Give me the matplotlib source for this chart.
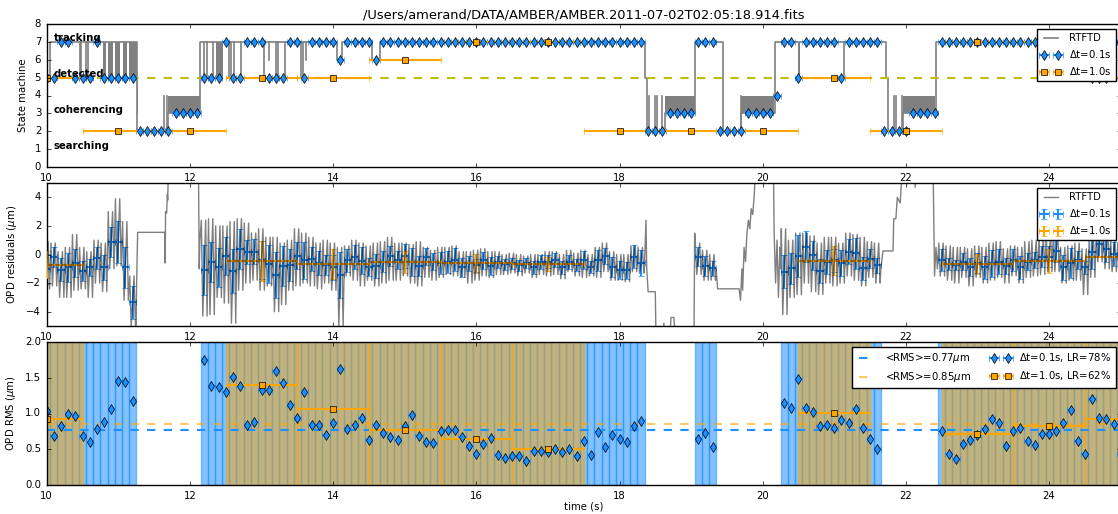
import numpy as np
import matplotlib
matplotlib.use("Agg")
import matplotlib.pyplot as plt

# ---------------- data ----------------
title = "/Users/amerand/DATA/AMBER/AMBER.2011-07-02T02:05:18.914.fits"

# 0.1 s bins from 10.0 to 25.0 s: state machine value of each bin
bin_t = np.round(np.arange(100, 251) / 10.0, 1)
bin_state = [5, 5, 7, 7, 5, 5, 5, 7, 5, 5, 5, 5, 5,
             2, 2, 2, 2, 2, 3, 3, 3, 3,
             5, 5, 5, 7, 5, 5, 7, 7, 7, 5, 5, 5, 7, 7, 5, 7, 7, 7,
             7, 6, 7, 7, 7, 7, 6] + [7] * 37 + \
            [2, 2, 2, 3, 3, 3, 3, 7, 7, 7, 2, 2, 2, 2, 3, 3, 3, 3, 4,
             7, 7, 5, 7, 7, 7, 7, 7, 5, 7, 7, 7, 7, 7,
             2, 2, 2, 2, 3, 3, 3, 3] + [7] * 21 + [5, 5, 5, 7, 7]

# 1 s bins
sec_t = np.arange(10, 26)
sec_state = [5, 2, 2, 5, 5, 6, 7, 7, 2, 2, 2, 5, 2, 7, 7, 5]

# OPD RMS of the valid 0.1 s bins (state >= 5)
blue_rms = [1.04, 0.69, 0.82, 0.99, 0.97, 0.69, 0.60, 0.79, 0.88, 1.06, 1.46, 1.44, 1.18,
            1.75, 1.39, 1.37, 1.30, 1.51, 1.39, 0.84, 0.88,
            1.33, 1.33, 1.60, 1.42, 1.12, 0.94, 1.30, 0.84, 0.84, 0.70,
            0.87, 1.62, 0.79, 0.84, 0.94, 0.63, 0.84, 0.73, 0.67, 0.63,
            0.82, 0.98, 0.68, 0.60, 0.59, 0.76, 0.77, 0.77, 0.67, 0.54,
            0.44, 0.58, 0.66, 0.42, 0.38, 0.40, 0.40, 0.33, 0.47, 0.48,
            0.46, 0.50, 0.46, 0.50, 0.41, 0.61, 0.42, 0.74, 0.53, 0.70,
            0.64, 0.60, 0.82, 0.90,
            0.64, 0.73, 0.53,
            1.15, 1.08, 1.48, 1.08, 1.02, 0.83, 0.84, 0.80, 0.91, 0.87, 1.06, 0.80, 0.65, 0.51,
            0.75, 0.44, 0.36, 0.57, 0.63, 0.70, 0.79, 0.92, 0.87, 0.55, 0.75, 0.80, 0.61,
            0.56, 0.72, 0.71, 0.76, 0.87, 1.05, 0.61, 0.44, 1.20, 0.94, 0.92, 0.85, 0.44]

# mean OPD residual of the valid 0.1 s bins
blue_mean = [-1.0, -0.15, -1.05, -0.9, -0.6, -1.15, -0.9, -0.25, -0.9, 0.88, 0.88, -0.9, -3.35,
             -1.1, -0.5, -0.9, -0.1, -1.15, 0.4, 0.2, 0.2,
             -0.4, -0.67, -1.45, -0.8, -0.75, -0.07, -0.4, -0.32, -0.62, -0.75,
             -0.9, -1.45, -0.4, -0.15, -0.45, -0.9, -0.8, -0.5, -0.1, -0.4,
             -0.1, -0.5, -0.8, -0.15, -0.5, -0.62, -0.5, -0.35, -0.9, -0.62,
             -0.75, -0.4, -0.8, -0.5, -0.67, -0.62, -0.75, -0.58, -0.9, -0.5,
             -0.5, -0.4, -0.9, -0.5, -0.75, -0.4, -0.9, -0.4, -0.1, -0.9,
             -1.1, -1.1, -0.15, -0.62,
             -0.15, -0.8, -0.97,
             -1.2, -0.97, -0.1, 0.53, -0.05, -1.13, -0.5, -0.4, -0.62, 0.2, 0.07, -0.97, -0.28, -0.75,
             -0.4, -0.67, -0.75, -0.5, -0.9, -0.62, -0.9, -0.62, -0.5, -0.8, -0.4, -0.9, -0.5,
             -0.4, -0.15, -0.15, 0.25, -0.9, -0.58, -0.4, -0.9, 0.2, 0.76, 0.4, 0.02, -0.2]

# upper / lower excursions of the raw RTFTD residuals inside each valid 0.1 s bin
gray_hi = [0.9, 0.8, 0.2, 0.5, 1.4, 0.5, 0.2, 1.0, 0.8, 3.0, 3.9, 2.3, -1.5,
           2.4, 2.5, 2.0, 2.0, 2.3, 2.5, 2.2, 1.5,
           1.8, 1.2, 1.2, 0.8, 1.0, 1.8, 1.5, 1.2, 0.8, 1.0,
           0.8, 0.5, 0.6, 1.0, 0.8, 0.6, 0.8, 0.9, 1.2, 0.8,
           0.8, 0.7, 0.9, 0.5, 0.3, 0.5, 0.5, 0.6, 0.2, 0.2,
           0.3, 0.4, 0.2, 0.2, 0.0, 0.1, 0.0, -0.1, 0.0, 0.0,
           0.2, 0.2, 0.0, 0.3, 0.1, 0.3, 0.0, 0.5, 0.8, 0.2,
           0.0, 0.0, 0.6, 0.5,
           0.8, 0.3, 0.0,
           1.8, 1.0, 1.5, 1.5, 1.3, 0.8, 1.2, 1.2, 0.8, 1.5, 1.4, 1.2, 0.9, 0.8,
           0.8, 0.6, 0.5, 0.5, 0.4, 0.6, 0.5, 0.8, 0.9, 0.4, 0.6, 0.5, 0.9,
           1.0, 1.2, 1.5, 1.7, 0.5, 0.6, 0.8, 0.4, 1.2, 1.8, 1.5, 1.0, 0.8]
gray_lo = [-2.4, -2.2, -3.0, -3.0, -2.5, -2.4, -3.0, -2.0, -2.6, -1.0, -0.8, -3.2, -5.0,
           -4.3, -4.2, -3.0, -3.4, -4.8, -2.5, -2.0, -1.8,
           -2.5, -2.2, -4.0, -3.5, -2.5, -2.2, -2.0, -2.2, -2.4, -2.0,
           -2.5, -5.0, -1.5, -1.8, -2.2, -1.8, -2.2, -2.0, -1.8, -1.8,
           -1.5, -2.0, -2.2, -1.6, -1.8, -1.6, -1.4, -1.5, -1.6, -2.0,
           -1.8, -1.5, -1.6, -1.4, -1.4, -1.3, -1.5, -1.3, -1.6, -1.4,
           -1.5, -1.4, -1.7, -1.2, -1.5, -1.6, -1.5, -1.6, -1.2, -1.8,
           -1.8, -1.9, -1.2, -1.3,
           -1.4, -1.8, -1.8,
           -4.2, -3.0, -2.8, -2.0, -2.6, -2.8, -2.0, -2.2, -2.0, -1.5, -1.8, -2.2, -1.6, -2.0,
           -1.5, -1.8, -2.0, -1.6, -2.2, -1.6, -2.0, -1.8, -1.6, -2.0, -1.5, -2.0, -1.6,
           -1.5, -1.4, -1.2, -1.2, -2.0, -1.8, -1.8, -2.8, -1.6, -0.5, -1.0, -1.2, -1.0]

# raw RTFTD residuals outside the valid bins (fringe lost, off scale = 6)
gap_t = [11.25, 11.255, 11.27, 11.65, 11.655, 11.66, 11.675, 11.685, 11.69, 11.70, 12.12, 12.13, 12.14,
         18.35, 18.37, 18.38, 18.40, 18.50, 18.51, 18.60, 18.62, 18.63, 18.70, 18.72, 18.76, 18.78, 19.04, 19.05,
         19.35, 19.37, 19.67, 19.69, 19.71, 19.72, 19.74, 19.76, 19.78, 19.80, 19.82, 19.84, 19.86, 19.88,
         19.90, 20.15, 20.16, 20.18, 20.20, 20.22, 20.24, 20.25,
         21.65, 21.68, 21.82, 21.83, 21.86, 21.88, 21.92, 21.95, 22.12, 22.13, 22.14, 22.38, 22.40, 22.42, 22.44]
gap_v = [-4.9, -2.3, 1.55, 1.55, -0.6, 3.0, 2.9, 4.2, 3.8, 6.0, 6.0, -1.0, 1.0,
         -0.5, 2.4, -1.0, -2.6, -2.6, -6.0, -6.0, -4.8, -6.0, -6.0, -4.4, -4.4, -6.0, -6.0, 1.5,
         -1.0, -2.4, -2.4, -3.2, -1.0, -2.5, 0.5, -0.5, 1.5, 2.4, 1.8, 3.2, 2.8, 4.0,
         6.0, 6.0, 1.5, -2.0, 1.0, -3.0, 0.5, -1.0,
         -1.0, 0.25, 0.25, 2.5, 2.5, 4.0, 3.6, 6.0, 6.0, 4.7, 6.0, 6.0, -1.5, 0.5, -1.0]

# 1 s bins: RMS and mean residual of the valid ones
orange_rms = [0.93, 1.40, 1.06, 0.77, 0.65, 0.51, 1.01, 0.72, 0.83, 0.92]
orange_mean = [-0.72, -0.44, -0.67, -0.5, -0.62, -0.65, -0.44, -0.67, -0.44, -0.2]

# raw state machine (RTFTD): step changes, short dips and fast chatter
rt_t = [10.0, 10.04, 11.26, 11.70, 12.14, 14.05, 14.13, 14.55, 14.65, 18.35, 18.38, 18.63,
        19.05, 19.45, 19.70, 20.17, 21.72, 21.75, 21.96, 22.42, 24.58, 24.88, 25.0]
rt_v = [5, 7, 2, 3, 7, 6, 7, 6, 7, 5, 2, 3, 7, 2, 3, 7, 5, 2, 3, 7, 5, 7, 7]
rt_dips = [(10.46, 5, 7), (10.48, 5, 7), (10.55, 5, 7), (10.58, 5, 7), (11.64, 2, 4), (11.68, 2, 4),
           (12.19, 5, 7), (12.24, 5, 7), (12.32, 5, 7), (12.54, 5, 7), (12.58, 5, 7), (12.62, 5, 7),
           (12.72, 5, 7), (13.04, 5, 7), (13.11, 6, 7), (13.20, 5, 7), (13.23, 5, 7), (13.33, 5, 7),
           (13.55, 5, 7), (13.58, 5, 7), (13.62, 6, 7), (18.41, 2, 4), (18.50, 2, 4), (18.53, 2, 4),
           (18.60, 2, 4), (19.69, 2, 4), (21.13, 5, 7), (21.83, 2, 4), (21.86, 2, 4), (21.94, 2, 4)]
rt_chatter = [(10.79, 10.83, 5, 7), (10.86, 10.92, 5, 7), (10.95, 11.03, 5, 7), (11.06, 11.12, 5, 7),
              (11.15, 11.26, 5, 7), (11.26, 11.28, 3, 4.7), (11.70, 12.14, 3, 4), (12.37, 12.46, 5, 7),
              (18.63, 19.05, 3, 4), (19.70, 20.16, 3, 4), (20.49, 20.52, 5, 7), (21.96, 22.41, 3, 4)]

state_names = [(7, "tracking"), (5, "detected"), (3, "coherencing"), (1, "searching")]
rms_blue_mean = 0.77
rms_orange_mean = 0.85

# ---------------- style ----------------
plt.style.use("classic")
plt.rcParams["font.family"] = ["DejaVu Sans"]
plt.rcParams["mathtext.fontset"] = "dejavusans"
plt.rcParams["font.size"] = 7.3
plt.rcParams["xtick.labelsize"] = 7.3
plt.rcParams["ytick.labelsize"] = 7.3
plt.rcParams["axes.labelsize"] = 7.3
plt.rcParams["legend.fontsize"] = 7.3
plt.rcParams["xtick.major.size"] = 3
plt.rcParams["ytick.major.size"] = 3

BLUE = "#1e90ff"
ORANGE = "#ffa500"
GRAY = "0.5"

bin_state = np.array(bin_state)
sec_state = np.array(sec_state)
valid = bin_state >= 5
vt = bin_t[valid]
sec_valid = sec_t[sec_state >= 5]

fig = plt.figure(figsize=(11.18, 5.14), dpi=100)
fig.patch.set_facecolor("white")
left, width, height = 46.7 / 1118, 1074 / 1118, 143 / 514
ax1 = fig.add_axes([left, 1 - 167 / 514, width, height])
ax2 = fig.add_axes([left, 1 - 326 / 514, width, height])
ax3 = fig.add_axes([left, 1 - 485 / 514, width, height])

# ---- state machine ----
ax1.step(rt_t, rt_v, where="post", color=GRAY, lw=1.2, label="RTFTD")
for t, lo, hi in rt_dips:
    ax1.plot([t, t], [lo, hi], color=GRAY, lw=1.2)
for t0, t1, lo, hi in rt_chatter:
    ax1.fill_between([t0, t1], lo, hi, color=GRAY, lw=0)
ax1.axhline(5, color=(0.75, 0.75, 0), ls="--", lw=1.5)
ax1.errorbar(bin_t, bin_state, xerr=0.05, fmt="d", color=BLUE, mfc=BLUE, mec="k",
             ecolor=BLUE, ms=5, elinewidth=1.5, capsize=2.5, label=r"$\Delta$t=0.1s")
ax1.errorbar(sec_t, sec_state, xerr=0.5, fmt="s", color=ORANGE, mfc=ORANGE, mec="k",
             ecolor=ORANGE, ms=5, elinewidth=1.5, capsize=2.5, label=r"$\Delta$t=1.0s")
for s, name in state_names:
    ax1.text(10.1, s + 0.2, name, fontweight="bold", va="center", ha="left")
ax1.set_ylim(0, 8)
ax1.set_yticks(range(0, 9))
ax1.set_ylabel("State machine")
ax1.set_title(title, fontsize=9.4, pad=4)
ax1.legend(loc="upper right", fancybox=False)

# ---- OPD residuals (raw line is half-transparent black, on top of the bars) ----
noise_t, noise_v = [], []
for t, hi, lo, m in zip(vt, gray_hi, gray_lo, blue_mean):
    noise_t += [t - 0.04, t - 0.02, t, t + 0.02, t + 0.04]
    noise_v += [hi, lo, m, hi, lo]
gt = np.array(noise_t + gap_t)
gv = np.array(noise_v + gap_v)
order = np.argsort(gt, kind="stable")
ax2.plot(gt[order], gv[order], color="k", alpha=0.5, lw=1, label="RTFTD", zorder=4)
ax2.errorbar(vt, blue_mean, xerr=0.05, yerr=blue_rms, fmt="none", ecolor=BLUE,
             elinewidth=1.5, capsize=2.5, label=r"$\Delta$t=0.1s", zorder=2)
ax2.errorbar(sec_valid, orange_mean, xerr=0.5, yerr=orange_rms, fmt="none", ecolor=ORANGE,
             elinewidth=1.5, capsize=2.5, label=r"$\Delta$t=1.0s", zorder=3)
ax2.set_ylim(-5, 5)
ax2.set_yticks([-4, -2, 0, 2, 4])
ax2.set_ylabel(r"OPD residuals ($\mu$m)")
ax2.legend(loc="upper right", fancybox=False)

# ---- OPD RMS ----
for t in vt:
    ax3.axvspan(t - 0.05, t + 0.05, color=BLUE, alpha=0.55, lw=1)
for t in sec_valid:
    ax3.axvspan(t - 0.5, t + 0.5, color=ORANGE, alpha=0.5, lw=1)
ax3.axhline(rms_blue_mean, color=BLUE, ls="--", lw=1.5,
            label=r"<RMS>=%.2f$\mu$m" % rms_blue_mean)
ax3.axhline(rms_orange_mean, color=ORANGE, ls="--", lw=1.5, alpha=0.6,
            label=r"<RMS>=%.2f$\mu$m" % rms_orange_mean)
ax3.errorbar(vt, blue_rms, xerr=0.05, fmt="d", color=BLUE, mfc=BLUE, mec="k", ecolor=BLUE,
             ms=5, elinewidth=1.5, capsize=2.5, label=r"$\Delta$t=0.1s, LR=78%")
ax3.errorbar(sec_valid, orange_rms, xerr=0.5, fmt="s", color=ORANGE, mfc=ORANGE, mec="k",
             ecolor=ORANGE, ms=5, elinewidth=1.5, capsize=2.5, label=r"$\Delta$t=1.0s, LR=62%")
ax3.set_ylim(0, 2)
ax3.set_yticks([0, 0.5, 1.0, 1.5, 2.0])
ax3.set_ylabel(r"OPD RMS ($\mu$m)")
ax3.set_xlabel("time (s)", labelpad=1)
ax3.legend(loc="upper right", ncol=2, fancybox=False)

for ax in (ax1, ax2, ax3):
    ax.set_xlim(10, 25)
    ax.set_xticks(range(10, 26, 2))

fig.savefig("out.png", dpi=100, facecolor="white")
